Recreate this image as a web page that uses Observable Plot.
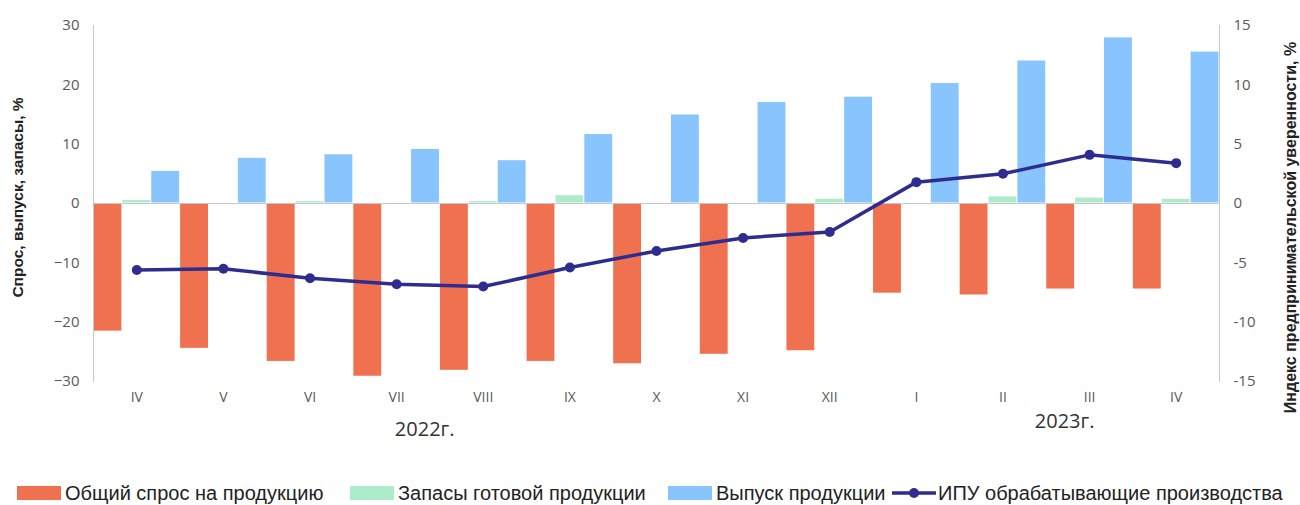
<!DOCTYPE html>
<html>
<head>
<meta charset="utf-8">
<script src="https://cdn.jsdelivr.net/npm/d3@7"></script>
<script src="https://cdn.jsdelivr.net/npm/@observablehq/plot@0.6"></script>
<style>
  html, body { margin: 0; padding: 0; background: #fff; }
  #wrap { position: relative; width: 1300px; height: 505px; overflow: hidden; }
  #legend { position: absolute; left: 0; top: 481px; width: 1300px; height: 24px;
    font-family: "Liberation Sans", Arial, sans-serif; font-size: 20px; color: #222; }
  .item { position: absolute; top: 0; display: flex; align-items: center; height: 24px; white-space: nowrap; }
  .sw { width: 44px; height: 14px; margin-right: 4px; }
</style>
</head>
<body>
<div id="wrap"><div id="chart"></div><div id="legend"></div></div>
<script>
const categories = ["IV","V","VI","VII","VIII","IX","X","XI","XII","I","II","III","IV"];
const demand = [-21.6, -24.5, -26.7, -29.2, -28.2, -26.7, -27.1, -25.5, -24.9, -15.2, -15.5, -14.5, -14.5];
const stocks = [0.6, 0.1, 0.4, 0.2, 0.4, 1.4, 0.2, 0.2, 0.8, 0.1, 1.2, 1.0, 0.8];
const output = [5.5, 7.7, 8.3, 9.2, 7.3, 11.7, 15.0, 17.1, 18.0, 20.3, 24.1, 28.0, 25.6];
const ipu = [-5.6, -5.5, -6.3, -6.8, -7.0, -5.4, -4.0, -2.9, -2.4, 1.8, 2.5, 4.1, 3.4];
const seriesNames = ["Общий спрос на продукцию", "Запасы готовой продукции", "Выпуск продукции"];
const lineName = "ИПУ обрабатывающие производства";
const colors = ["#F07150", "#AEEBCA", "#88C5FF"];
const lineColor = "#2E2D8F";
const leftTicks = [-30, -20, -10, 0, 10, 20, 30];
const rightTicks = [-15, -10, -5, 0, 5, 10, 15];
const leftTitle = "Спрос, выпуск, запасы, %";
const rightTitle = "Индекс предпринимательской уверенности, %";
const year2022 = "2022г.";
const year2023 = "2023г.";

const key = (i, s) => `${i}|${s}`;
const domain = [];
categories.forEach((c, i) => [0,1,2].forEach(s => domain.push(key(i, s))));
const bars = [];
[demand, stocks, output].forEach((arr, s) => arr.forEach((v, i) => bars.push({key: key(i, s), series: seriesNames[s], value: v})));
const line = ipu.map((v, i) => ({key: key(i, 1), value: v}));
const centerKeys = categories.map((c, i) => key(i, 1));
const ratio = 2; // left scale units per right scale unit

const font = "'Open Sans', sans-serif";
const titleFont = "'Liberation Sans', Arial, sans-serif";
const chart = Plot.plot({
  width: 1300, height: 470,
  marginLeft: 93, marginRight: 81, marginTop: 25, marginBottom: 89,
  style: {fontFamily: font, fontSize: "14px", color: "#595959", background: "#fff"},
  x: {type: "band", domain, padding: 0, axis: null},
  y: {domain: [-30, 30], axis: null},
  color: {domain: seriesNames, range: colors},
  marks: [
    Plot.barY(bars, {x: "key", y: "value", fill: "series", inset: 0.5}),
    Plot.ruleY([0], {stroke: "#C8C8C8", strokeWidth: 1.2}),
    Plot.axisX({ticks: centerKeys, tickFormat: k => categories[+k.split("|")[0]], tickSize: 0, tickPadding: 11, fill: "#595959", fontSize: 14, label: null}),
    Plot.axisY({ticks: leftTicks, tickSize: 0, tickPadding: 14, anchor: "left", label: null, fill: "#595959", fontSize: 15}),
    Plot.axisY({ticks: rightTicks.map(t => t * ratio), tickFormat: t => String(t / ratio), tickSize: 0, tickPadding: 14, anchor: "right", label: null, fill: "#595959", fontSize: 15}),
    Plot.frame({anchor: "left", stroke: "#C8C8C8"}),
    Plot.frame({anchor: "right", stroke: "#C8C8C8"}),
    Plot.lineY(line, {x: "key", y: d => d.value * ratio, stroke: lineColor, strokeWidth: 3.5}),
    Plot.dot(line, {x: "key", y: d => d.value * ratio, r: 5, fill: lineColor}),
    Plot.text([leftTitle], {frameAnchor: "left", textAnchor: "middle", rotate: -90, dx: -75, dy: -6, fontWeight: "bold", fontSize: 15.5, fill: "#222", fontFamily: titleFont}),
    Plot.text([rightTitle], {frameAnchor: "right", textAnchor: "middle", rotate: -90, dx: 71, dy: 24, fontWeight: "bold", fontSize: 16, fill: "#222", fontFamily: titleFont}),
    Plot.text([year2022], {x: () => key(3, 1), frameAnchor: "bottom", dx: 28, dy: 54, fontSize: 20, fill: "#333"}),
    Plot.text([year2023], {x: () => key(11, 1), frameAnchor: "bottom", dx: -25, dy: 46, fontSize: 20, fill: "#333"})
  ]
});
document.getElementById("chart").appendChild(chart);

const legend = document.getElementById("legend");
const items = [
  {left: 17, type: "bar", color: colors[0], text: seriesNames[0]},
  {left: 350, type: "bar", color: colors[1], text: seriesNames[1]},
  {left: 668, type: "bar", color: colors[2], text: seriesNames[2]},
  {left: 892, type: "line", color: lineColor, text: lineName}
];
items.forEach(it => {
  const d = document.createElement("div");
  d.className = "item";
  d.style.left = it.left + "px";
  if (it.type === "bar") {
    d.innerHTML = `<div class="sw" style="background:${it.color}"></div><span>${it.text}</span>`;
  } else {
    d.innerHTML = `<svg width="44" height="16" style="margin-right:2px"><line x1="0" x2="44" y1="8" y2="8" stroke="${it.color}" stroke-width="3.5"/><circle cx="22" cy="8" r="5" fill="${it.color}"/></svg><span>${it.text}</span>`;
  }
  legend.appendChild(d);
});
</script>
</body>
</html>
